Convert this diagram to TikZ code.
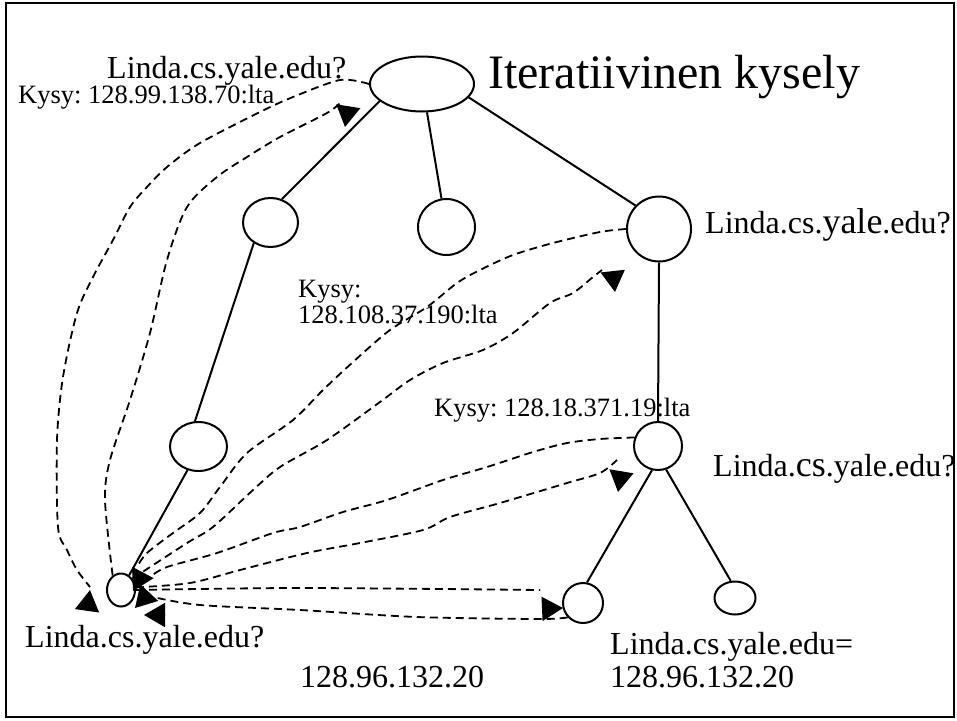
\documentclass[tikz,border=0pt]{standalone}
\usepackage{fontspec}
\setmainfont{Liberation Serif}
\usetikzlibrary{shapes.geometric,arrows.meta,calc}
\frenchspacing
\begin{document}
\begin{tikzpicture}[x=1pt,y=-1pt,
  srv/.style={draw,ellipse,line width=2pt,inner sep=0pt},
  tree/.style={line width=2pt},
  qline/.style={line width=1.8pt,dash pattern=on 8pt off 5pt,-{Triangle[length=21pt,width=24pt]}},
  lbl/.style={anchor=base west,inner sep=0pt,font=\fontsize{32}{36}\selectfont},
  slbl/.style={anchor=base west,inner sep=0pt,font=\fontsize{26.5}{30}\selectfont},
  ttl/.style={anchor=base west,inner sep=0pt,font=\fontsize{48}{52}\selectfont},
]
\useasboundingbox (0,0) rectangle (957,720);
\draw[line width=2pt] (6,3) rectangle (954,717);

% tree nodes
\node[srv,minimum width=104pt,minimum height=55pt] (root) at (422,84) {};
\node[srv,minimum width=55pt,minimum height=49pt] (n1) at (270.5,222.5) {};
\node[srv,minimum width=57pt,minimum height=56pt] (n2) at (446.5,227) {};
\node[srv,minimum width=64pt,minimum height=65pt] (n3) at (659,229) {};
\node[srv,minimum width=57pt,minimum height=49pt] (n4) at (198.5,446.5) {};
\node[srv,minimum width=48pt,minimum height=48pt] (n5) at (658,446) {};
\node[srv,minimum width=28pt,minimum height=33pt] (c) at (121,590) {};
\node[srv,minimum width=40pt,minimum height=40pt] (b1) at (583,603) {};
\node[srv,minimum width=41pt,minimum height=33pt] (b2) at (735,598) {};

% texts
\node[ttl] (title) at (488,88) {Iteratiivinen kysely};
\node[lbl] (l1) at (107,78) {Linda.cs.yale.edu?};
\node[slbl] (k1) at (18,103) {Kysy: 128.99.138.70:lta};
\node[lbl] (l2) at (705,233) {Linda.cs.{\fontsize{36}{40}\selectfont yale}.edu?};
\node[slbl] (k2a) at (298,297) {Kysy:};
\node[slbl] (k2b) at (298,323) {128.108.37.190:lta};
\node[slbl] (k3) at (434,416) {Kysy: 128.18.371.19:lta};
\node[lbl] (l3) at (713,476) {Linda.{\fontsize{36}{40}\selectfont cs}.yale.edu?};
\node[lbl] (l4) at (25,647) {Linda.cs.yale.edu?};
\node[lbl] (ip1) at (300,687) {128.96.132.20};
\node[lbl] (l5) at (610,654) {Linda.cs.yale.edu=};
\node[lbl] (ip2) at (610,687) {128.96.132.20};

% tree edges
\draw[tree] (root.202) -- (n1.64);
\draw[tree] (root.-80) -- (n2.100);
\draw[tree] (root.-16) -- (n3.135);
\draw[tree] (n1.231) -- (n4.98);
\draw[tree] (n3.south) -- (n5.north);
\draw[tree] (n4.245) -- (c.61);
\draw[tree] (n5.256) -- (b1.79);
\draw[tree] (n5.289) -- (b2.104);

% arrow tip / base coordinates
\coordinate (tq1) at (345,127);  \coordinate (bq1) at (348.5,105);
\coordinate (tq2) at (615,292);  \coordinate (bq2) at (612.5,269.5);
\coordinate (tq3) at (618,492);  \coordinate (bq3) at (621.5,471);
\coordinate (tq4) at (563,608);  \coordinate (bq4) at (540,609);
\coordinate (tr1) at (90,590);   \coordinate (br1) at (87,611);
\coordinate (tr2) at (133,591);  \coordinate (br2) at (142,574);
\coordinate (tr3) at (135,608);  \coordinate (br3) at (148,594);
\coordinate (tr4) at (144,615);  \coordinate (br4) at (168,615);

% queries (client -> server)
\draw[qline] plot[smooth] coordinates {(c.120) (105,500) (110,460) (130,400) (150,333) (167,260) (187,207) (217,177) (247,157) (280,137) (327,113) (340,103)}
  ($(tq1)!21pt!(bq1)$) -- (tq1);
\draw[qline] plot[smooth] coordinates {(c.45) (187,543) (213,527) (253,490) (280,467) (327,440) (380,402) (410,380) (443,363) (483,350) (513,333) (550,303) (573,293) (593,277) (602,270)}
  ($(tq2)!21pt!(bq2)$) -- (tq2);
\draw[qline] plot[smooth] coordinates {(c.10) (190,583) (240,570) (307,553) (360,543) (423,530) (450,517) (500,503) (567,483) (600,473) (617,460)}
  ($(tq3)!21pt!(bq3)$) -- (tq3);
\draw[qline] plot[smooth] coordinates {(c.east) (300,588) (540,590)}
  ($(tq4)!21pt!(bq4)$) -- (tq4);

% responses (server -> client)
\draw[qline] plot[smooth] coordinates {(root.west) (340,80) (293,97) (260,112) (200,143) (167,167) (147,187) (130,207) (113,240) (93,277) (77,313) (63,377) (57,440) (58,527) (67,550) (77,570) (90,587)}
  ($(tr1)!21pt!(br1)$) -- (tr1);
\draw[qline] plot[smooth] coordinates {(n3.west) (600,232) (553,243) (513,255) (480,270) (457,283) (427,307) (390,330) (353,362) (323,390) (293,420) (247,453) (220,487) (200,513) (173,533) (147,553) (137,567)}
  ($(tr2)!21pt!(br2)$) -- (tr2);
\draw[qline] plot[smooth] coordinates {(n5.160) (600,439) (567,443) (533,452) (487,467) (443,480) (387,500) (343,512) (300,527) (273,533) (217,553) (167,567) (150,577)}
  ($(tr3)!21pt!(br3)$) -- (tr3);
\draw[qline] plot[smooth] coordinates {(b1.223) (540,619) (417,617) (300,610) (200,605) (153,597)}
  ($(tr4)!21pt!(br4)$) -- (tr4);
\end{tikzpicture}
\end{document}
